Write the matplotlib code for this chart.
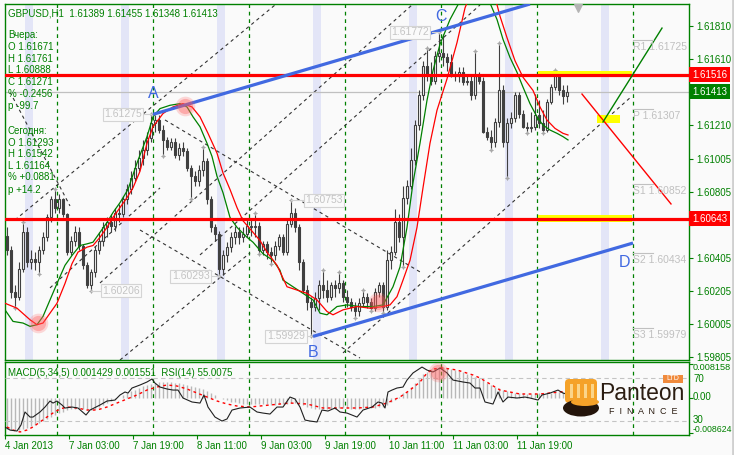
import numpy as np
import matplotlib.pyplot as plt
from matplotlib.patches import Rectangle, FancyBboxPatch, Ellipse
import matplotlib.transforms as mtransforms

plt.rcParams['font.family'] = ['Liberation Sans', 'DejaVu Sans']

W, H = 734, 455
GREEN = '#008000'
BG = '#fafafa'

# ---------- GBPUSD H1, свечи (open = close предыдущей свечи) ----------
first_open = 1.6054
closes = [1.6045, 1.6020, 1.6017, 1.6034, 1.6056, 1.6038, 1.6040, 1.6038, 1.6045, 1.6053,
          1.6065, 1.6076, 1.6071, 1.6076, 1.6067, 1.6044, 1.6051, 1.6056, 1.6048, 1.6036,
          1.6024, 1.6032, 1.6045, 1.6051, 1.6059, 1.6062, 1.6060, 1.6068, 1.6067, 1.6076,
          1.6082, 1.6089, 1.6095, 1.6101, 1.6106, 1.6113, 1.6122, 1.6124, 1.6118, 1.6112,
          1.6108, 1.6111, 1.6103, 1.6107, 1.6105, 1.6095, 1.6090, 1.6087, 1.6094, 1.6099,
          1.6076, 1.6059, 1.6055, 1.6034, 1.6042, 1.6047, 1.6053, 1.6056, 1.6053, 1.6055,
          1.6060, 1.6059, 1.6060, 1.6045, 1.6049, 1.6044, 1.6042, 1.6048, 1.6053, 1.6044,
          1.6061, 1.6068, 1.6059, 1.6038, 1.6021, 1.6014, 1.6011, 1.6016, 1.6024, 1.6021,
          1.6017, 1.6024, 1.6022, 1.6025, 1.6017, 1.6014, 1.6011, 1.6008, 1.6013, 1.6017,
          1.6014, 1.6010, 1.6020, 1.6024, 1.6011, 1.6039, 1.6044, 1.6062, 1.6053, 1.6077,
          1.6084, 1.6100, 1.6121, 1.6139, 1.6157, 1.6152, 1.6148, 1.6163, 1.6165, 1.6162,
          1.6159, 1.6152, 1.6151, 1.6153, 1.6147, 1.6148, 1.6139, 1.6151, 1.6148, 1.6117,
          1.6114, 1.6111, 1.6123, 1.6142, 1.6111, 1.6122, 1.6125, 1.6139, 1.6128, 1.6120,
          1.6119, 1.6120, 1.61271, 1.6122, 1.6118, 1.6135, 1.6144, 1.6153, 1.6142, 1.61389,
          1.61413]
highs = [1.6059, 1.6048, 1.6024, 1.6038, 1.6062, 1.6059, 1.6045, 1.6044, 1.6048, 1.6056,
         1.6067, 1.6078, 1.6082, 1.6079, 1.6077, 1.6068, 1.6054, 1.6060, 1.6059, 1.6049,
         1.6038, 1.6034, 1.6048, 1.6056, 1.6062, 1.6065, 1.6067, 1.6071, 1.6073, 1.6078,
         1.6085, 1.6093, 1.6100, 1.6106, 1.6112, 1.6117, 1.61275, 1.6127, 1.6127, 1.6121,
         1.6114, 1.6113, 1.6113, 1.6110, 1.6111, 1.6107, 1.6097, 1.6093, 1.6097, 1.6108,
         1.6101, 1.6078, 1.6061, 1.6057, 1.6045, 1.6050, 1.6056, 1.6060, 1.6059, 1.6059,
         1.6064, 1.6064, 1.6068, 1.6062, 1.6051, 1.6051, 1.6047, 1.6051, 1.6055, 1.6055,
         1.6064, 1.60753, 1.6071, 1.6061, 1.6040, 1.6024, 1.6017, 1.6020, 1.6027, 1.6033,
         1.6027, 1.6026, 1.6027, 1.6032, 1.6027, 1.6021, 1.6016, 1.6014, 1.6016, 1.6021,
         1.6019, 1.6016, 1.6022, 1.6026, 1.6026, 1.6045, 1.6048, 1.6070, 1.6067, 1.6084,
         1.6088, 1.6107, 1.6124, 1.6142, 1.6160, 1.6168, 1.6159, 1.6166, 1.61772, 1.61761,
         1.6165, 1.6164, 1.6154, 1.6156, 1.6156, 1.6151, 1.6151, 1.6166, 1.6153, 1.6150,
         1.6120, 1.6118, 1.6125, 1.6171, 1.6145, 1.6125, 1.6129, 1.6141, 1.6141, 1.6130,
         1.6123, 1.6129, 1.6140, 1.6136, 1.6130, 1.6137, 1.6146, 1.61542, 1.6154, 1.6145,
         1.61455]
lows = [1.6042, 1.6016, 1.6010, 1.6015, 1.6032, 1.6035, 1.6034, 1.6033, 1.6031, 1.6043,
        1.6051, 1.6062, 1.6068, 1.6068, 1.6065, 1.6042, 1.6042, 1.6048, 1.6045, 1.6034,
        1.6022, 1.60206, 1.6029, 1.6043, 1.6048, 1.6053, 1.6056, 1.6057, 1.6062, 1.6065,
        1.6073, 1.6079, 1.6087, 1.6093, 1.6097, 1.6103, 1.6111, 1.6117, 1.6116, 1.6102,
        1.6106, 1.6106, 1.6101, 1.6100, 1.6102, 1.6093, 1.6076, 1.6084, 1.6084, 1.6090,
        1.6073, 1.6056, 1.6051, 1.60293, 1.6030, 1.6038, 1.6044, 1.6049, 1.6049, 1.6050,
        1.6053, 1.6054, 1.6053, 1.6043, 1.6042, 1.6040, 1.6037, 1.6039, 1.6045, 1.6042,
        1.6042, 1.6059, 1.6056, 1.6033, 1.6019, 1.6009, 1.59929, 1.6008, 1.6009, 1.6016,
        1.6014, 1.6015, 1.6017, 1.6019, 1.6014, 1.6011, 1.6008, 1.6004, 1.6005, 1.6011,
        1.6010, 1.6008, 1.6008, 1.6017, 1.6007, 1.6009, 1.6034, 1.6042, 1.6050, 1.6035,
        1.6073, 1.6082, 1.6097, 1.6118, 1.6136, 1.6148, 1.6145, 1.6146, 1.6159, 1.6157,
        1.6154, 1.6150, 1.6148, 1.6147, 1.6145, 1.6145, 1.6136, 1.6137, 1.6146, 1.6116,
        1.6112, 1.6106, 1.6108, 1.6120, 1.6108, 1.60888, 1.6119, 1.6123, 1.6125, 1.6119,
        1.6116, 1.6117, 1.6118, 1.6119, 1.61164, 1.6117, 1.6134, 1.6142, 1.6139, 1.6134,
        1.61348]

frac_hi = [4, 12, 36, 49, 62, 71, 79, 83, 89, 105, 108, 117, 123, 137]
frac_lo = [2, 8, 21, 39, 46, 53, 63, 66, 76, 87, 91, 94, 99, 121, 125, 130, 134]

# скользящие (точки: номер бара, цена)
ma_green_bar = [-0.5, 1.5, 4, 5.75, 7.5, 9, 10.75, 12.5, 14.5, 16.25, 18.25, 20, 21.5, 23.25, 25, 26.5,
                28.25, 30.25, 32.5, 35, 36.5, 38.25, 40.75, 43.25, 45, 46.5, 48.25, 50, 51.25, 52.5,
                54, 55.75, 57.5, 60, 61.5, 64, 66.5, 68.25, 69, 71.5, 74, 76.5, 78.25, 80, 82.5, 85,
                88.25, 91.5, 94, 96.5, 98.25, 100, 101.5, 103.25, 105, 106.5, 108.25, 110.75, 112.75,
                117, 120.75, 122.5, 124, 125.75, 127.5, 129, 130.75, 132.5, 134, 135.75, 137.5, 139, 140.25]
ma_green_val = [1.6009, 1.6002, 1.6001, 1.5999, 1.6000, 1.6005, 1.6015, 1.6025, 1.6036, 1.6042, 1.6048,
                1.6049, 1.6050, 1.6056, 1.6062, 1.6068, 1.6074, 1.6082, 1.6098, 1.6114, 1.6126, 1.6131,
                1.6133, 1.6134, 1.6132, 1.6126, 1.6120, 1.6110, 1.6102, 1.6090, 1.6080, 1.6065, 1.6059,
                1.6053, 1.6050, 1.6043, 1.6039, 1.6033, 1.6027, 1.6023, 1.6019, 1.6015, 1.6007, 1.6006,
                1.6011, 1.6012, 1.6011, 1.6011, 1.6012, 1.6023, 1.6035, 1.6059, 1.6086, 1.6110, 1.6136,
                1.6154, 1.6170, 1.6185, 1.6194, 1.6215, 1.6195, 1.6185, 1.6173, 1.6162, 1.6153, 1.6144,
                1.6134, 1.6126, 1.6121, 1.6118, 1.6116, 1.6114, 1.6112]
ma_red_bar = [-0.5, 2.5, 5.75, 7.5, 9, 10.75, 12.5, 14.5, 16.25, 17.75, 20, 21.5, 23.25, 25, 26.5, 28.25,
              30, 31.5, 33.25, 35, 36.5, 39, 41.5, 44, 46.25, 48.25, 50.25, 52.5, 54, 55.75, 57.5, 59,
              61.5, 63.25, 65, 67.5, 70, 72.5, 75, 77.5, 80, 81.5, 84, 87.5, 90.75, 94, 95.75, 97.5, 99,
              100.75, 102.5, 104, 105.75, 107.5, 110, 112.5, 114.5, 118.25, 122.5, 123.25, 125, 127,
              129, 131.5, 133.25, 135, 137, 139, 140.25]
ma_red_val = [1.6013, 1.6010, 1.6003, 1.6000, 1.6001, 1.6007, 1.6013, 1.6025, 1.6037, 1.6044, 1.6047,
              1.6048, 1.6053, 1.6059, 1.6065, 1.6071, 1.6077, 1.6083, 1.6093, 1.6110, 1.6120, 1.6128,
              1.6132, 1.6134, 1.6132, 1.6126, 1.6116, 1.6104, 1.6092, 1.6082, 1.6071, 1.6063, 1.6056,
              1.6051, 1.6044, 1.6036, 1.6023, 1.6021, 1.6019, 1.6015, 1.6008, 1.6006, 1.6009, 1.6011,
              1.6010, 1.6011, 1.6012, 1.6017, 1.6027, 1.6039, 1.6059, 1.6083, 1.6110, 1.6130, 1.6149,
              1.6171, 1.6192, 1.6215, 1.6194, 1.6187, 1.6174, 1.6160, 1.6150, 1.6142, 1.6132, 1.6124,
              1.6119, 1.6116, 1.6115]

# уровни
red_levels = [1.61516, 1.60643]
current_price = 1.61413
pivot_names = ['R1', 'P', 'S1', 'S2', 'S3']
pivot_levels = [1.61725, 1.61307, 1.60852, 1.60434, 1.59979]

# трендовые линии ((бар, цена), (бар, цена))
blue_lines = [((36.5, 1.61275), (130.75, 1.61944)),
              ((76.5, 1.59929), (156.5, 1.60495))]
dashed_lines = [((2, 1.60635), (67, 1.61938)),
                ((10.75, 1.60223), (38.25, 1.60829)),
                ((28.25, 1.59786), (60.75, 1.60435)),
                ((23.25, 1.60253), (101.25, 1.61938)),
                ((48.25, 1.60423), (118.25, 1.61938)),
                ((84, 1.59829), (156.25, 1.61386)),
                ((0.75, 1.61410), (15.75, 1.60720)),
                ((39.5, 1.61241), (103.25, 1.60320)),
                ((33.25, 1.60574), (88.25, 1.59798))]
proj_red = ((143.75, 1.61398), (166, 1.60732))
proj_green = ((149, 1.61229), (163.75, 1.61798))

wave_names = ['A', 'B', 'C', 'D']
wave_bars = [36.5, 76.5, 108.5, 154.5]
wave_prices = [1.6140, 1.5983, 1.6187, 1.6038]

# ценовые метки: текст, центр метки (бар), от бара, до бара
price_tags = ['1.61275', '1.60206', '1.60293', '1.60753', '1.59929', '1.61772']
tag_center = [29.0, 28.5, 45.9, 79.25, 69.75, 100.75]
tag_from = [34.2, 21.0, 51.3, 71.0, 75.0, 106.3]
tag_to = [36.0, 23.2, 53.0, 74.0, 76.0, 108.0]

highlight_bars = [7.75, 44.5, 92.75]
highlight_prices = [1.60011, 1.61326, 1.60138]

sep_bars = [12.5, 36.5, 60.5, 84.5, 108.5, 132.5, 156.5]
band_bars = [5, 29, 53, 77, 101, 125, 149]
tick_bars = [0, 16, 32, 48, 64, 80, 96, 112, 128]
tick_labels = ['4 Jan 2013', '7 Jan 03:00', '7 Jan 19:00', '8 Jan 11:00', '9 Jan 03:00',
               '9 Jan 19:00', '10 Jan 11:00', '11 Jan 03:00', '11 Jan 19:00']
price_ticks = [1.59805, 1.60005, 1.60205, 1.60405, 1.60605, 1.60805, 1.61005, 1.61210, 1.61410, 1.61610, 1.61810]

# MACD(5,34,5), единицы 1e-4
macd_main = [-76, -78, -79, -79, -77, -74, -70, -66, -62, -57,
             -52, -47, -42, -38, -35, -31, -29, -28, -28, -29,
             -31, -31, -28, -24, -19, -14, -9, -4, 0, 5,
             10, 15, 19, 24, 28, 31, 34, 36, 37, 38,
             38, 37, 36, 35, 33, 31, 28, 25, 22, 20,
             16, 11, 6, 0, -4, -7, -10, -12, -14, -15,
             -16, -16, -16, -17, -17, -17, -18, -18, -17, -17,
             -15, -13, -13, -15, -18, -22, -25, -27, -28, -28,
             -28, -28, -27, -26, -26, -26, -27, -27, -27, -26,
             -26, -26, -25, -24, -23, -18, -12, -5, 2, 10,
             16, 25, 35, 46, 56, 63, 69, 72, 74, 73,
             72, 70, 68, 65, 61, 58, 54, 50, 47, 42,
             36, 31, 26, 23, 18, 15, 13, 12, 11, 10,
             9, 9, 10, 10, 10, 11, 12, 13, 14, 14, 14]
signal_bar = [0, 1.5, 3.25, 5, 6.5, 8.25, 10, 11.5, 13.25, 15, 17.5, 20, 22.5, 25, 27.5, 30, 32.5, 35,
              37.5, 40, 42.5, 45, 47.5, 50, 52.5, 55, 57.5, 60.75, 65.75, 70.75, 75, 79, 83.25, 87.5,
              91.5, 95, 98.25, 100.75, 103.25, 105, 106.5, 109, 112.5, 116.5, 118.25, 123.25, 128.25,
              133.25, 138.25, 140]
signal_val = [-0.00717, -0.0079, -0.00838, -0.0079, -0.00717, -0.00595, -0.00474, -0.00377, -0.00279,
              -0.00231, -0.00255, -0.00304, -0.00304, -0.00231, -0.00134, -0.00036, 0.00061, 0.00182,
              0.00255, 0.00304, 0.00279, 0.00207, 0.00109, 0.00012, -0.00085, -0.00158, -0.00207,
              -0.00231, -0.00182, -0.00134, -0.00158, -0.00255, -0.00255, -0.00255, -0.00231, -0.00134,
              0.00012, 0.00182, 0.00377, 0.00595, 0.00693, 0.00717, 0.00668, 0.00547, 0.00474, 0.00182,
              0.00085, 0.00085, 0.00134, 0.00155]
rsi_bar = [-0.5, 0.75, 2.5, 3.5, 4.5, 5.75, 6.5, 8.25, 9.5, 10.75, 11.5, 12.5, 13.75, 14.5, 16.25, 17.75,
           19.75, 20.75, 23.25, 25, 27, 28.25, 29.5, 30.25, 31.25, 33.25, 35, 36.25, 37, 38.25, 40, 41.5,
           42.75, 44, 46.25, 48.25, 49.25, 50.25, 52, 53.75, 55, 56.25, 58.25, 60.75, 62.5, 64, 65.75,
           67.5, 69, 70.75, 72, 73.25, 74.5, 75.75, 77.5, 78.75, 80.25, 82, 83.25, 85, 87.5, 89, 91.25,
           92.75, 93.75, 94.5, 95.25, 96.25, 97.5, 99, 100, 101.5, 103.75, 105, 106.5, 108.25, 110,
           111.5, 114, 115.75, 117, 118.25, 119.5, 121.5, 122.75, 124, 125.25, 127.5, 129.5, 130.75,
           132.75, 133.75, 135.75, 137.75, 139, 140]
rsi_val = [24.4, 21.6, 20.7, 26.3, 38.4, 33.7, 33.7, 38.4, 43.0, 48.6, 46.7, 48.6, 44.9, 42.1, 43.0, 42.1,
           35.6, 40.2, 44.9, 48.6, 49.5, 54.2, 57.0, 56.0, 60.7, 63.5, 66.3, 69.1, 65.3, 61.6, 59.8, 58.8,
           58.8, 51.4, 47.7, 46.7, 54.2, 43.0, 33.7, 30.0, 31.9, 40.2, 42.1, 43.0, 38.4, 37.4, 36.5,
           43.0, 43.0, 52.3, 50.5, 43.0, 30.9, 30.0, 29.1, 40.2, 39.3, 42.1, 38.4, 37.4, 33.7, 40.2, 43.0,
           47.7, 46.7, 42.1, 57.0, 58.8, 60.7, 61.6, 68.1, 74.7, 80.2, 77.4, 75.6, 79.3, 74.7,
           68.1, 66.3, 65.3, 60.7, 60.7, 47.7, 45.8, 57.0, 47.7, 52.3, 51.4, 52.3, 51.4,
           49.5, 54.2, 56.0, 58.8, 56.0, 55.0]


def fpx(x, y):
    return x / W, 1 - y / H


fig = plt.figure(figsize=(W / 100, H / 100), dpi=100, facecolor=BG)
ax = fig.add_axes([5 / W, 1 - 360 / H, 684 / W, 356 / H], facecolor=BG)
axm = fig.add_axes([5 / W, 1 - 435 / H, 684 / W, 73 / H], facecolor=BG)

for a in (ax, axm):
    a.set_xlim(-0.5, 170.5)
    for s in a.spines.values():
        s.set_color(GREEN)
        s.set_linewidth(1.0)
    for b in sep_bars:
        a.axvline(b, color=GREEN, lw=0.9, dashes=(3, 3), zorder=1)

ax.set_ylim(1.59786, 1.61944)

# фон - сессии
for b in band_bars:
    ax.axvspan(b - 0.5, b + 1.5, color='#e3e5f7', lw=0, zorder=0)

# пунктирные построения
for (b1, p1), (b2, p2) in dashed_lines:
    ax.plot([b1, b2], [p1, p2], color='#333333', lw=0.8, dashes=(3, 3), zorder=2)

# свечи
o = np.array([first_open] + closes[:-1])
c = np.array(closes)
h = np.array(highs)
l = np.array(lows)
x = np.arange(len(c))
up = c >= o
ax.vlines(x, l, h, color='#404040', lw=0.8, zorder=3)
ax.bar(x[up], (c - o)[up], bottom=o[up], width=0.7, color=BG, edgecolor='#404040', lw=0.8, zorder=4)
ax.bar(x[~up], (o - c)[~up], bottom=c[~up], width=0.7, color='#404040', edgecolor='#404040', lw=0.8, zorder=4)

# фракталы
ax.scatter(frac_hi, h[frac_hi], marker=(4, 1, 0), s=14, color='#a8a8a8', zorder=5, lw=0)
ax.scatter(frac_lo, l[frac_lo], marker=(4, 1, 0), s=14, color='#a8a8a8', zorder=5, lw=0)

# скользящие
ax.plot(ma_green_bar, ma_green_val, color='#008000', lw=0.9, zorder=5)
ax.plot(ma_red_bar, ma_red_val, color='#ff0000', lw=0.9, zorder=5)

# уровни
ax.axhline(current_price, color='#c0c0c0', lw=0.9, zorder=2)
ax.add_patch(Rectangle((132.75, 1.61501), 23.5, 0.00034, color='#ffff00', lw=0, zorder=5.5))
ax.add_patch(Rectangle((132.75, 1.60623), 23.5, 0.00039, color='#ffff00', lw=0, zorder=5.5))
ax.add_patch(Rectangle((147.5, 1.61223), 5.75, 0.00048, color='#ffff00', lw=0, zorder=5.5))
for lv in red_levels:
    ax.axhline(lv, color='#ff0000', lw=2.3, zorder=6)

for (b1, p1), (b2, p2) in blue_lines:
    ax.plot([b1, b2], [p1, p2], color='#4169e1', lw=2.3, zorder=6, solid_capstyle='butt')
ax.plot([proj_red[0][0], proj_red[1][0]], [proj_red[0][1], proj_red[1][1]], color='#ff0000', lw=1.0, zorder=6)
ax.plot([proj_green[0][0], proj_green[1][0]], [proj_green[0][1], proj_green[1][1]], color='#008000', lw=1.0, zorder=6)

# пивоты
for name, lv in zip(pivot_names, pivot_levels):
    ax.plot([156.5, 161.5], [lv, lv], color='#c0c0c0', lw=0.8, zorder=6)
    ax.annotate(f'{name} {lv:.5f}', (156.5, lv), xytext=(0, -1.5), textcoords='offset points',
                ha='left', va='top', color='#c0c0c0', fontsize=7.5, zorder=6)

# волны
for n, b, p in zip(wave_names, wave_bars, wave_prices):
    ax.text(b, p, n, color='#4169e1', fontsize=11.5, ha='center', va='center', zorder=8)

# ценовые метки
for t, cb, b1, b2 in zip(price_tags, tag_center, tag_from, tag_to):
    v = float(t)
    ax.plot([b1, b2], [v, v], color='#d0d0d0', lw=0.8, zorder=7)
    ax.text(cb, v, t, color='#c4c4c4', fontsize=7.5, ha='center', va='center', zorder=8,
            bbox=dict(boxstyle='square,pad=0.15', fc=BG, ec='#d4d4d4', lw=0.8))

# подсветка
ax.scatter(highlight_bars, highlight_prices, s=200, color='#ff5a5a', alpha=0.22, lw=0, zorder=7)
ax.scatter(highlight_bars, highlight_prices, s=120, color='#ff5a5a', alpha=0.35, lw=0, zorder=7)

ax.scatter([142.75], [0.99], transform=mtransforms.blended_transform_factory(ax.transData, ax.transAxes),
           marker='v', s=30, color='#b4b4b4', zorder=8, clip_on=False)

# ось цен справа (1.61410 и 1.60605 закрыты плашками цен)
ax.yaxis.tick_right()
ax.set_yticks(price_ticks)
ax.set_yticklabels(['' if p in (1.61410, 1.60605) else f'{p:.5f}' for p in price_ticks])
ax.tick_params(axis='y', direction='out', length=3, width=0.8, color=GREEN, labelcolor=GREEN,
               labelsize=7, pad=2)
ax.set_xticks([])

blend = mtransforms.blended_transform_factory(ax.transAxes, ax.transData)
for v, col in [(red_levels[0], '#ff0000'), (current_price, '#008000'), (red_levels[1], '#ff0000')]:
    ax.text(1.0045, v, f'{v:.5f}', transform=blend, color='white', fontsize=7, ha='left', va='center',
            clip_on=False, zorder=10, bbox=dict(boxstyle='square,pad=0.28', fc=col, ec='none'))

# ---------- MACD + RSI ----------
k = 0.000243
axm.set_ylim(-37.5 * k, 35.5 * k)
axm.vlines(x, 0, np.array(macd_main) * 1e-4, color='#b8b8b8', lw=1.0, zorder=2)
axm.plot(signal_bar, signal_val, color='#ff0000', lw=1.0, dashes=(2, 2.5), zorder=3)
axr = axm.twinx()
axr.set_ylim(17.0, 84.9)
axr.axhline(70, color='#c4c4c4', lw=0.8, dashes=(4, 3))
axr.axhline(30, color='#c4c4c4', lw=0.8, dashes=(4, 3))
axr.plot(rsi_bar, rsi_val, color='#202020', lw=0.8, zorder=4)
axr.set_yticks([])
for s in axr.spines.values():
    s.set_visible(False)
axr.scatter([107.75], [76.0], s=200, color='#ff5a5a', alpha=0.22, lw=0, zorder=6)
axr.scatter([107.75], [76.0], s=120, color='#ff5a5a', alpha=0.35, lw=0, zorder=6)

axm.yaxis.tick_right()
axm.set_yticks([0.008158, 0.0, -0.008624])
axm.set_yticklabels([])
axm.tick_params(axis='y', direction='out', length=3, width=0.8, color=GREEN)
axm.set_xticks([b - 0.5 for b in tick_bars])
axm.set_xticklabels(tick_labels)
axm.tick_params(axis='x', direction='out', length=3, width=0.8, color=GREEN, labelcolor=GREEN,
                labelsize=7, pad=1.5)
for lab in axm.get_xticklabels():
    lab.set_ha('left')

for txt, yy, fs in [('0.008158', 367, 6.6), ('70', 379, 7), ('0.00', 397, 7), ('30', 420, 7),
                    ('-0.008624', 429, 6.3)]:
    fig.text(*fpx(693, yy), txt, color=GREEN, fontsize=fs, ha='left', va='center')

fig.text(*fpx(8, 373), 'MACD(5,34,5) 0.001429 0.001551  RSI(14) 55.0075', color=GREEN, fontsize=7,
         ha='left', va='center')

# ---------- инфо-блок ----------
info = [('GBPUSD,H1  1.61389 1.61455 1.61348 1.61413', 13), ('Вчера:', 35), ('O 1.61671', 47),
        ('H 1.61761', 59), ('L 1.60888', 70), ('C 1.61271', 82), ('% -0.2456', 94), ('p -99.7', 106),
        ('Сегодня:', 131), ('O 1.61293', 143), ('H 1.61542', 154), ('L 1.61164', 166),
        ('% +0.0881', 177), ('p +14.2', 190)]
for txt, yy in info:
    fig.text(*fpx(8, yy), txt, color=GREEN, fontsize=7, ha='left', va='center', zorder=20)

# ---------- логотип ----------
ov = fig.add_axes([0, 0, 1, 1], facecolor='none')
ov.set_xlim(0, W)
ov.set_ylim(H, 0)
ov.axis('off')
ov.add_patch(FancyBboxPatch((565, 379), 32, 24, boxstyle='round,pad=0,rounding_size=4', fc='#f5a229', ec='none'))
for xx in (570, 577, 584, 591):
    ov.add_patch(Rectangle((xx, 384), 3, 14, fc='#fbd58a', ec='none'))
ov.add_patch(Ellipse((581, 408), 36, 17, fc='#24150b', ec='none'))
ov.add_patch(Ellipse((585, 402), 28, 8, fc='#f5a229', ec='none'))
ov.text(599, 393, 'Panteon', fontsize=16.5, color='#2b1d12', ha='left', va='center')
ov.text(643, 411, 'F  I  N  A  N  C  E', fontsize=6.5, color='#2b1d12', ha='center', va='center')
ov.add_patch(Rectangle((663, 375), 20, 8, fc='#f08a3c', ec='none'))
ov.text(673, 379, 'LTD', fontsize=5, color='white', ha='center', va='center')
ov.plot([732.5, 732.5], [0, H], color='#d0d0d0', lw=2)

fig.savefig('out.png', dpi=100, facecolor=BG)
